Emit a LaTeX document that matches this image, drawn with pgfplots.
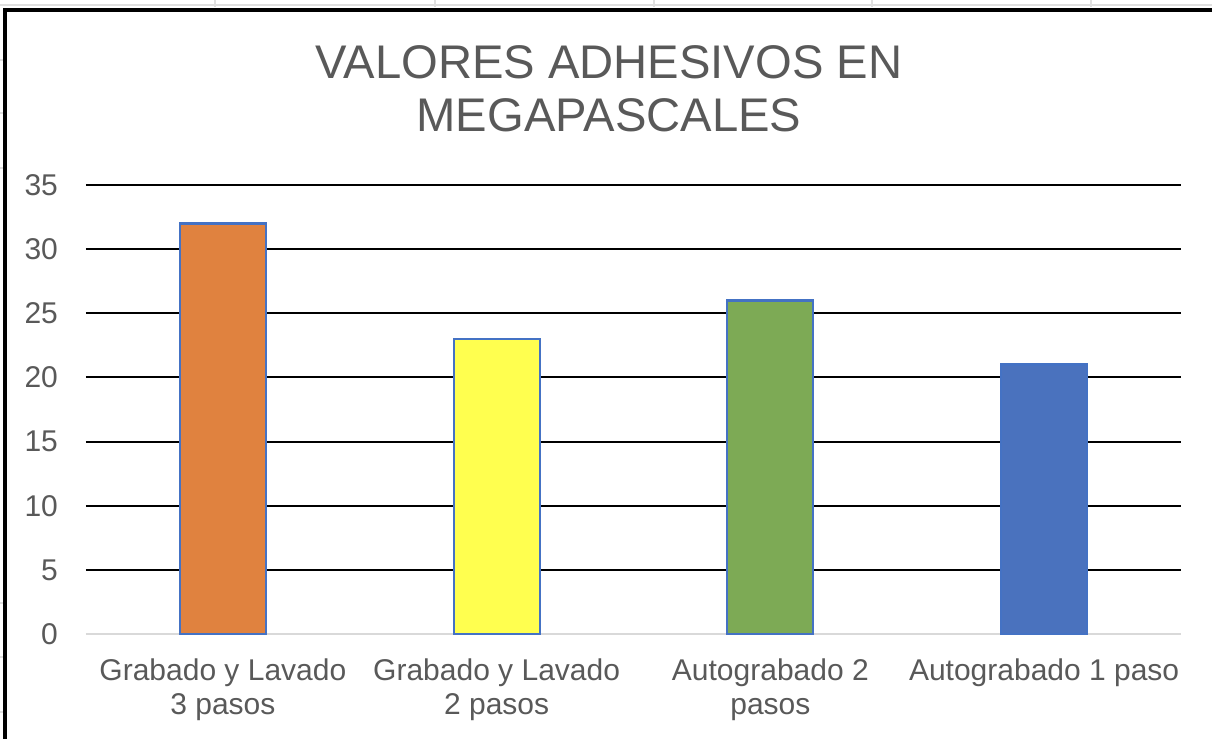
\documentclass[border=0pt]{standalone}
\usepackage{pgfplots}
\pgfplotsset{compat=1.18}
\usepackage{fontspec}
\setmainfont{Liberation Sans}
\definecolor{txt}{HTML}{595959}
\definecolor{bord}{HTML}{4472C4}
\definecolor{c1}{HTML}{E0823F}
\definecolor{c2}{HTML}{FFFF4F}
\definecolor{c3}{HTML}{7DAA55}
\definecolor{c4}{HTML}{4A72BE}
\begin{document}
\begin{tikzpicture}
\useasboundingbox (0,0) rectangle (606pt,369.5pt);
% spreadsheet background marks
\draw[gray!25, line width=0.8pt] (0,367pt) -- (606pt,367pt);
\foreach \x in {215,435,654,872,1091} \draw[gray!25, line width=0.6pt] (\x*0.5pt,369.5pt) -- (\x*0.5pt,366pt);
\foreach \y in {60,113,168,603,657,712} \draw[gray!25, line width=0.6pt] (0,369.5pt-\y*0.5pt) -- (1.5pt,369.5pt-\y*0.5pt);
% chart frame
\draw[black, line width=1.6pt] (2.5pt,-20pt) rectangle (640pt,364.5pt);
\begin{axis}[
  at={(43pt,52.5pt)}, anchor=south west,
  scale only axis, width=547.5pt, height=224.5pt,
  xmin=-0.5, xmax=3.5, ymin=0, ymax=35,
  axis line style={draw=none},
  major tick length=0pt,
  xtick={0,1,2,3},
  xticklabels={{Grabado y Lavado\\3 pasos},{Grabado y Lavado\\2 pasos},{Autograbado 2\\pasos},{Autograbado 1 paso}},
  xticklabel style={align=center, font=\fontsize{15}{17}\selectfont, text=txt, yshift=-9pt},
  ytick={5,10,...,35},
  extra y ticks={0},
  extra y tick style={grid style={color=gray!30, line width=1pt}},
  yticklabel style={font=\fontsize{15}{17.5}\selectfont, text=txt, xshift=-10.5pt},
  /pgf/number format/assume math mode=true,
  ymajorgrids,
  grid style={black, line width=1pt},
  ybar, bar width=43pt, bar shift=0pt,
  clip=false,
]
\addplot[fill=c1, draw=bord, line width=1.1pt] coordinates {(0,32)};
\addplot[fill=c2, draw=bord, line width=1.1pt] coordinates {(1,23)};
\addplot[fill=c3, draw=bord, line width=1.1pt] coordinates {(2,26)};
\addplot[fill=c4, draw=bord, line width=1.1pt] coordinates {(3,21)};
\end{axis}
\node[anchor=base, text=txt, font=\fontsize{23.6}{28}\selectfont] at (304.5pt,330pt) {VALORES ADHESIVOS EN};
\node[anchor=base, text=txt, font=\fontsize{23.6}{28}\selectfont] at (304.5pt,303.5pt) {MEGAPASCALES};
\end{tikzpicture}
\end{document}
